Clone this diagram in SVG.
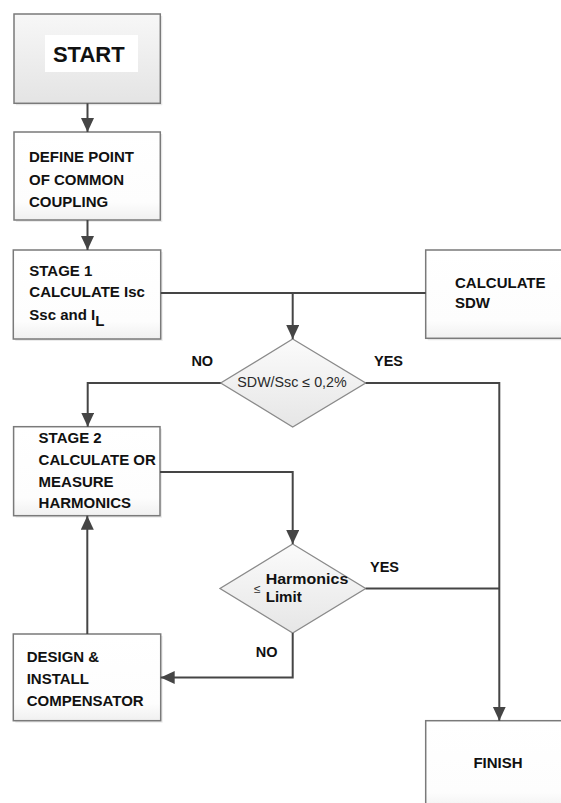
<svg xmlns="http://www.w3.org/2000/svg" width="561" height="803" viewBox="0 0 561 803">
<defs>
<linearGradient id="gStart" x1="0" y1="0" x2="0" y2="1"><stop offset="0" stop-color="#f7f7f7"/><stop offset="1" stop-color="#e4e4e4"/></linearGradient>
<linearGradient id="gBox" x1="0" y1="0" x2="0" y2="1"><stop offset="0" stop-color="#ffffff"/><stop offset="0.8" stop-color="#fdfdfd"/><stop offset="1" stop-color="#f0f0f0"/></linearGradient>
<linearGradient id="gDia" x1="0" y1="0" x2="0" y2="1"><stop offset="0" stop-color="#fbfbfb"/><stop offset="1" stop-color="#e6e6e6"/></linearGradient>
<marker id="arr" markerUnits="userSpaceOnUse" markerWidth="15" markerHeight="14" refX="14" refY="6.5" orient="auto"><path d="M0,0 L14,6.5 L0,13 z" fill="#454545"/></marker>
</defs>
<style>
.box{fill:url(#gBox);stroke:#7a7a7a;stroke-width:1.5}
.shadow{fill:#000;opacity:0.08}
.dia{fill:url(#gDia);stroke:#8a8a8a;stroke-width:1.3}
.t{font-family:"Liberation Sans",Arial,sans-serif;font-weight:bold;font-size:15px;fill:#111}
.lbl{font-family:"Liberation Sans",Arial,sans-serif;font-weight:bold;font-size:14.5px;fill:#111}
.dt{font-family:"Liberation Sans",Arial,sans-serif;font-size:14px;fill:#2a2a2a}
.c{fill:none;stroke:#454545;stroke-width:2}
</style>
<rect width="561" height="803" fill="#ffffff"/>

<g id="start">
<rect class="shadow" x="16" y="16" width="146.3" height="89.3"/>
<rect x="14" y="14" width="146.3" height="89.3" fill="url(#gStart)" stroke="#7a7a7a" stroke-width="1.5"/>
<rect x="45" y="35" width="93" height="37" fill="#ffffff"/>
<text class="t" x="88.8" y="62.3" text-anchor="middle" style="font-size:22px">START</text>
</g>

<g id="define">
<rect class="shadow" x="16" y="134" width="146.3" height="88"/>
<rect class="box" x="14" y="132" width="146.3" height="88"/>
<text class="t" x="29" y="162.3">DEFINE POINT</text>
<text class="t" x="29" y="185">OF COMMON</text>
<text class="t" x="29" y="206.7">COUPLING</text>
</g>

<g id="stage1">
<rect class="shadow" x="15.3" y="252" width="147.4" height="89"/>
<rect class="box" x="13.3" y="250" width="147.4" height="89"/>
<text class="t" x="29.3" y="276">STAGE 1</text>
<text class="t" x="29.3" y="297.3">CALCULATE Isc</text>
<text class="t" x="29.3" y="320">Ssc and I<tspan dy="6">L</tspan></text>
</g>

<g id="sdw">
<rect class="shadow" x="427.7" y="252" width="140" height="88.3"/>
<rect class="box" x="425.7" y="250" width="140" height="88.3"/>
<text class="t" x="455" y="287.7">CALCULATE</text>
<text class="t" x="455" y="308.3">SDW</text>
</g>

<g id="decision1">
<polygon class="dia" points="292.7,339 365.7,383 292.7,427 220.7,383"/>
<text class="dt" x="237.3" y="387" textLength="109.4" lengthAdjust="spacingAndGlyphs">SDW/Ssc ≤ 0,2%</text>
</g>

<g id="stage2">
<rect class="shadow" x="15.6" y="428.7" width="146.4" height="89"/>
<rect class="box" x="13.6" y="426.7" width="146.4" height="89"/>
<text class="t" x="38.6" y="443.3">STAGE 2</text>
<text class="t" x="38.6" y="465">CALCULATE OR</text>
<text class="t" x="38.6" y="486.7">MEASURE</text>
<text class="t" x="38.6" y="508.3">HARMONICS</text>
</g>

<g id="decision2">
<polygon class="dia" points="292.7,544 365.7,588.5 292.7,633 220,588.5"/>
<text class="dt" x="254" y="593" style="font-size:12px">≤</text>
<text class="t" x="265.7" y="584" textLength="82.6" lengthAdjust="spacingAndGlyphs">Harmonics</text>
<text class="t" x="265.7" y="601.7" textLength="36" lengthAdjust="spacingAndGlyphs">Limit</text>
</g>

<g id="design">
<rect class="shadow" x="15.3" y="636" width="147.4" height="86.7"/>
<rect class="box" x="13.3" y="634" width="147.4" height="86.7"/>
<text class="t" x="26.7" y="661.7">DESIGN &amp;</text>
<text class="t" x="26.7" y="684.3">INSTALL</text>
<text class="t" x="26.7" y="706">COMPENSATOR</text>
</g>

<g id="finish">
<rect class="box" x="425.7" y="720.7" width="140" height="90"/>
<text class="t" x="498" y="768.3" text-anchor="middle">FINISH</text>
</g>

<g id="labels">
<text class="lbl" x="191.4" y="366">NO</text>
<text class="lbl" x="374" y="366">YES</text>
<text class="lbl" x="370" y="571.7">YES</text>
<text class="lbl" x="255.8" y="657.3">NO</text>
</g>

<g id="connectors">
<path class="c" d="M87.5,103.3 V132" marker-end="url(#arr)"/>
<path class="c" d="M87.5,220 V250" marker-end="url(#arr)"/>
<path class="c" d="M160.7,293 H425.7"/>
<path class="c" d="M292.7,293 V339" marker-end="url(#arr)"/>
<path class="c" d="M220.7,383 H87.7 V426.7" marker-end="url(#arr)"/>
<path class="c" d="M365.7,383 H499.3 V720.7" marker-end="url(#arr)"/>
<path class="c" d="M160,472 H292.7 V544" marker-end="url(#arr)"/>
<path class="c" d="M365.7,588.5 H499.3"/>
<path class="c" d="M292.7,633 V677.5 H160.7" marker-end="url(#arr)"/>
<path class="c" d="M87.3,634 V515.7" marker-end="url(#arr)"/>
</g>
</svg>
